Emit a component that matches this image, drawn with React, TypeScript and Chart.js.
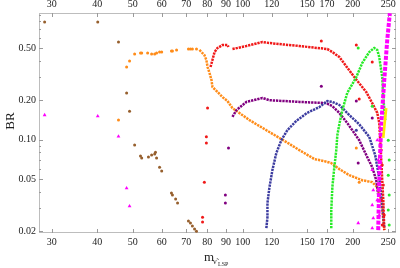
import React, { useEffect, useRef } from "react";
import { Chart, registerables } from "chart.js";

Chart.register(...registerables);

const X_MIN = 27.7;
const X_MAX = 262.5;
const Y_MIN = 0.0194;
const Y_MAX = 0.925;

const X_TICKS = [30, 40, 50, 60, 70, 80, 90, 100, 120, 150, 170, 200, 250];
const Y_TICKS = [0.02, 0.05, 0.1, 0.2, 0.5];
const Y_TICK_LABELS = ["0.02", "0.05", "0.10", "0.20", "0.50"];
const Y_MINOR = [0.03, 0.04, 0.06, 0.07, 0.08, 0.09, 0.3, 0.4, 0.6, 0.7, 0.8, 0.9];

// curves (m, BR)
const redCurveA = [[81.6, 0.358], [82.6, 0.405], [83.7, 0.466], [85.3, 0.5], [88.0, 0.527], [90.8, 0.527], [91.4, 0.509]];
const redCurveB = [[93.7, 0.491], [102.3, 0.518], [113.2, 0.556], [118.2, 0.546], [125.9, 0.536], [142.8, 0.518], [170.3, 0.491], [175.8, 0.466], [183.7, 0.427], [201.9, 0.3], [217.6, 0.231], [226.0, 0.19], [233.3, 0.16], [236.2, 0.134], [237.7, 0.099], [239.2, 0.07], [240.7, 0.049], [242.3, 0.0346], [243.8, 0.0204]];
const orangeSparse = [[48.1, 0.358], [49.0, 0.398], [50.6, 0.45], [52.5, 0.458], [52.9, 0.458], [54.9, 0.458], [56.3, 0.45], [57.4, 0.45], [58.1, 0.458], [59.2, 0.466], [60.0, 0.466], [63.8, 0.475], [64.2, 0.475], [65.9, 0.483], [71.0, 0.491], [71.9, 0.491], [72.8, 0.491], [74.7, 0.491]];
const orangeCurve = [[76.1, 0.483], [78.5, 0.442], [79.5, 0.405], [80.1, 0.358], [81.1, 0.322], [82.1, 0.285], [82.6, 0.252], [85.3, 0.231], [88.0, 0.211], [90.8, 0.197], [93.7, 0.174], [104.3, 0.141], [116.0, 0.118], [131.6, 0.0958], [142.8, 0.0832], [157.0, 0.0711], [167.1, 0.0686], [174.6, 0.0663], [183.7, 0.0596], [195.6, 0.0536], [212.2, 0.049], [226.0, 0.0474], [233.3, 0.0434], [237.7, 0.0364], [240.7, 0.029], [242.3, 0.0243], [243.8, 0.0204]];
const purpleCurve = [[93.7, 0.149], [96.1, 0.168], [102.3, 0.194], [113.2, 0.208], [118.2, 0.2], [142.8, 0.194], [169.2, 0.19], [175.8, 0.18], [183.7, 0.16], [193.1, 0.134], [208.2, 0.099], [219.0, 0.0736], [226.0, 0.0617], [231.8, 0.049], [234.7, 0.0378]];
const blueCurve = [[116.0, 0.0211], [116.8, 0.0256], [116.8, 0.0328], [118.2, 0.0427], [120.5, 0.0586], [123.5, 0.079], [127.5, 0.099], [132.4, 0.118], [140.1, 0.139], [150.0, 0.16], [161.9, 0.177], [170.3, 0.197], [175.8, 0.194], [183.7, 0.184], [195.6, 0.154], [208.2, 0.131], [221.8, 0.105], [230.3, 0.076], [236.2, 0.051], [240.7, 0.0317], [243.8, 0.0211]];
const greenCurve = [[174.6, 0.0211], [174.6, 0.029], [175.8, 0.0434], [178.0, 0.0617], [180.2, 0.0832], [181.4, 0.108], [183.7, 0.131], [187.2, 0.168], [193.1, 0.227], [204.4, 0.3], [212.2, 0.384], [221.8, 0.466], [228.9, 0.5], [233.3, 0.483], [236.2, 0.427], [240.7, 0.3], [242.3, 0.211], [245.3, 0.141]];
const magentaBand = [[234.7, 0.0204], [236.2, 0.049], [237.7, 0.0832], [239.2, 0.129], [243.8, 0.285], [248.4, 0.575], [252.5, 0.92]];
const yellowCurve = [[242.3, 0.103], [244.5, 0.135], [246.8, 0.174]];

// scattered points
const brownPts = [[28.7, 0.79], [40.1, 0.79], [45.7, 0.556], [48.1, 0.227], [49.0, 0.165], [50.6, 0.0909], [52.5, 0.0749], [52.9, 0.0723], [55.2, 0.0736], [56.3, 0.0763], [57.4, 0.0776], [57.7, 0.0803], [58.1, 0.0723], [59.2, 0.0617], [60.0, 0.0576], [63.8, 0.0391], [64.2, 0.0378], [65.5, 0.0352], [66.3, 0.0328], [71.0, 0.0239], [71.9, 0.0231], [72.8, 0.0219], [73.8, 0.0208], [74.7, 0.02]];
const magentaPts = [[28.7, 0.154], [40.1, 0.151], [45.7, 0.106], [48.1, 0.0427], [49.0, 0.0311], [206.9, 0.0231], [226.0, 0.0587], [227.5, 0.0412], [226.0, 0.0317], [227.5, 0.0252], [226.0, 0.0211], [233.3, 0.099], [234.7, 0.07], [233.3, 0.0346], [236.2, 0.0266]];
const redPts = [[80.1, 0.174], [79.5, 0.105], [79.5, 0.0942], [78.5, 0.0474], [77.6, 0.0256], [77.6, 0.0235], [164.0, 0.566], [204.4, 0.527], [226.0, 0.391], [208.2, 0.204], [239.2, 0.0832], [240.7, 0.064], [242.3, 0.045], [239.2, 0.0346], [243.8, 0.0266], [240.7, 0.0223]];
const purplePts = [[164.0, 0.256], [204.4, 0.197], [226.0, 0.146], [91.4, 0.0862], [89.6, 0.0378], [89.6, 0.0328], [206.9, 0.0663]];
const bluePts = [[204.4, 0.118]];
const greenPts = [[206.9, 0.5], [226.0, 0.18], [250.0, 0.099], [251.5, 0.07], [250.0, 0.0536], [251.5, 0.0378], [250.0, 0.029], [251.5, 0.0223]];
const orangePts = [[45.7, 0.141], [204.4, 0.0862], [208.2, 0.0474]];

const RED = "rgb(240,25,25)";
const ORANGE = "rgb(255,140,25)";
const PURPLE = "rgb(128,0,128)";
const BLUE = "rgb(60,60,160)";
const GREEN = "rgb(40,235,40)";
const MAGENTA = "rgb(255,0,255)";
const YELLOW = "rgb(255,235,0)";
const BROWN = "rgb(150,95,45)";

const SERIF = '"Liberation Serif", "Times New Roman", serif';

const pts = (a: number[][]) => a.map(([x, y]) => ({ x, y }));

const lineDs = (data: number[][], color: string, width = 2.5, dash = [2.3, 0.9]) => ({
  data: pts(data),
  showLine: true,
  borderColor: color,
  borderWidth: width,
  borderDash: dash,
  pointRadius: 0,
  fill: false,
});

const dotDs = (data: number[][], color: string, style = "circle", r = 1.5) => ({
  data: pts(data),
  showLine: false,
  pointStyle: style,
  pointRadius: r,
  pointBackgroundColor: color,
  pointBorderColor: color,
  pointBorderWidth: 0,
});

const framePlugin = {
  id: "frame",
  beforeDatasetsDraw(chart: any) {
    const { ctx, chartArea: a, scales } = chart;
    ctx.save();
    ctx.strokeStyle = "#bdbdbd";
    ctx.lineWidth = 1;
    ctx.strokeRect(a.left + 0.5, a.top + 0.5, a.right - a.left - 1, a.bottom - a.top - 1);
    ctx.strokeStyle = "#9a9a9a";
    const seg = (x1: number, y1: number, x2: number, y2: number) => {
      ctx.beginPath();
      ctx.moveTo(x1, y1);
      ctx.lineTo(x2, y2);
      ctx.stroke();
    };
    for (const v of X_TICKS) {
      const px = Math.round(scales.x.getPixelForValue(v)) + 0.5;
      seg(px, a.bottom, px, a.bottom - 4);
      seg(px, a.top, px, a.top + 4);
    }
    for (const v of Y_TICKS) {
      const py = Math.round(scales.y.getPixelForValue(v)) + 0.5;
      seg(a.left, py, a.left + 4, py);
      seg(a.right, py, a.right - 4, py);
    }
    for (const v of Y_MINOR) {
      const py = Math.round(scales.y.getPixelForValue(v)) + 0.5;
      seg(a.left, py, a.left + 2, py);
      seg(a.right, py, a.right - 2, py);
    }
    ctx.restore();
  },
  afterDraw(chart: any) {
    const { ctx } = chart;
    ctx.save();
    ctx.fillStyle = "#222";
    ctx.translate(11, 121);
    ctx.rotate(-Math.PI / 2);
    ctx.font = `13px ${SERIF}`;
    ctx.textAlign = "center";
    ctx.textBaseline = "middle";
    ctx.fillText("BR", 0, 0);
    ctx.restore();

    ctx.save();
    ctx.fillStyle = "#222";
    ctx.textAlign = "left";
    ctx.textBaseline = "alphabetic";
    ctx.font = `13px ${SERIF}`;
    ctx.fillText("m", 204, 261);
    ctx.font = `8px ${SERIF}`;
    ctx.fillText("\u03BD\u0303", 213, 264);
    ctx.font = `6px ${SERIF}`;
    ctx.fillText("LSP", 218, 266);
    ctx.restore();
  },
};

const tickFont = { family: SERIF, size: 10 };

export default function App() {
  const ref = useRef<HTMLCanvasElement>(null);
  useEffect(() => {
    if (!ref.current) return;
    const xTicksBuild = (s: any) => {
      s.ticks = X_TICKS.map((v) => ({ value: v }));
    };
    const yTicksBuild = (s: any) => {
      s.ticks = Y_TICKS.map((v) => ({ value: v }));
    };
    const chart = new Chart(ref.current, {
      type: "scatter",
      data: {
        datasets: [
          lineDs(yellowCurve, YELLOW, 2.6, []),
          lineDs(magentaBand, MAGENTA, 4, [4, 1.5]),
          dotDs(greenPts, GREEN),
          dotDs(redPts, RED),
          dotDs(magentaPts, MAGENTA, "triangle", 2.2),
          lineDs(greenCurve, GREEN),
          lineDs(redCurveA, RED),
          lineDs(redCurveB, RED),
          lineDs(blueCurve, BLUE),
          lineDs(purpleCurve, PURPLE),
          lineDs(orangeCurve, ORANGE),
          dotDs(orangeSparse, ORANGE),
          dotDs(orangePts, ORANGE),
          dotDs(purplePts, PURPLE),
          dotDs(bluePts, BLUE),
          dotDs(brownPts, BROWN),
        ] as any,
      },
      options: {
        responsive: false,
        animation: false,
        events: [],
        layout: { padding: 0 },
        plugins: { legend: { display: false }, tooltip: { enabled: false } },
        scales: {
          x: {
            type: "logarithmic",
            position: "bottom",
            min: X_MIN,
            max: X_MAX,
            grid: { display: false, drawTicks: false },
            border: { display: false },
            ticks: {
              autoSkip: false,
              maxRotation: 0,
              minRotation: 0,
              padding: 3,
              color: "#222",
              font: tickFont,
              callback: (v: any) => String(v),
            },
            afterBuildTicks: xTicksBuild,
            afterFit: (s: any) => {
              s.height = 35;
            },
          },
          x2: {
            type: "logarithmic",
            position: "top",
            min: X_MIN,
            max: X_MAX,
            grid: { display: false, drawTicks: false },
            border: { display: false },
            ticks: {
              autoSkip: false,
              maxRotation: 0,
              minRotation: 0,
              padding: 3,
              color: "#222",
              font: tickFont,
              callback: (v: any) => String(v),
            },
            afterBuildTicks: xTicksBuild,
            afterFit: (s: any) => {
              s.height = 13;
            },
          },
          y: {
            type: "logarithmic",
            position: "left",
            min: Y_MIN,
            max: Y_MAX,
            grid: { display: false, drawTicks: false },
            border: { display: false },
            ticks: {
              autoSkip: false,
              padding: 3,
              color: "#222",
              font: tickFont,
              callback: (v: any) => {
                const i = Y_TICKS.indexOf(v);
                return i >= 0 ? Y_TICK_LABELS[i] : "";
              },
            },
            afterBuildTicks: yTicksBuild,
            afterFit: (s: any) => {
              s.width = 39;
            },
          },
          y2: {
            type: "logarithmic",
            position: "right",
            min: Y_MIN,
            max: Y_MAX,
            grid: { display: false, drawTicks: false },
            border: { display: false },
            ticks: { display: false },
            afterBuildTicks: yTicksBuild,
            afterFit: (s: any) => {
              s.width = 3;
            },
          },
        },
      } as any,
      plugins: [framePlugin],
    });
    return () => chart.destroy();
  }, []);
  return (
    <div style={{ position: "fixed", left: 0, top: 0, width: 400, height: 268, background: "#fff" }}>
      <canvas ref={ref} width={400} height={268} style={{ width: 400, height: 268, display: "block" }} />
    </div>
  );
}
